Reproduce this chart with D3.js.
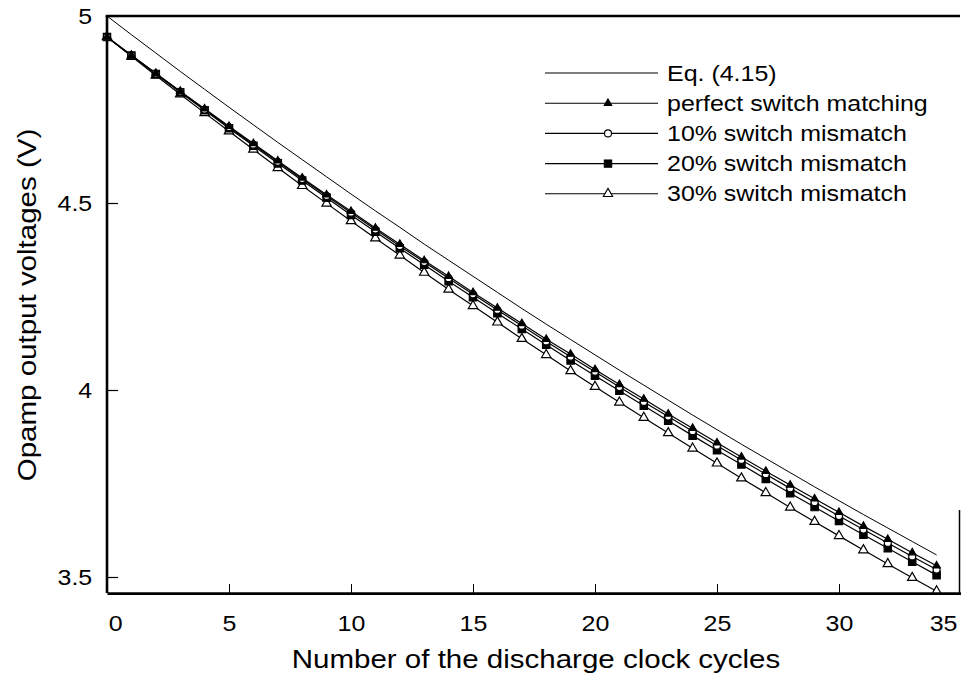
<!DOCTYPE html>
<html>
<head>
<meta charset="utf-8">
<script src="https://cdn.jsdelivr.net/npm/d3@7"></script>
<style>
  body { margin: 0; background: #fff; }
  text { font-family: "Liberation Sans", Arial, Helvetica, sans-serif; fill: #000; }
</style>
</head>
<body>
<div id="chart"></div>
<script>
// discharge clock cycles
var cycles = [0, 1, 2, 3, 4, 5, 6, 7, 8, 9, 10, 11, 12, 13, 14, 15, 16, 17, 18, 19,
              20, 21, 22, 23, 24, 25, 26, 27, 28, 29, 30, 31, 32, 33, 34];

// Eq. (4.15)
var eqValues = [5.000, 4.950, 4.901, 4.852, 4.804, 4.756, 4.709, 4.662, 4.616, 4.570,
                4.524, 4.479, 4.435, 4.390, 4.347, 4.304, 4.261, 4.218, 4.176, 4.135,
                4.094, 4.053, 4.013, 3.973, 3.933, 3.894, 3.855, 3.817, 3.779, 3.741,
                3.704, 3.667, 3.631, 3.595, 3.559];

var perfectValues = [4.944, 4.895, 4.847, 4.799, 4.752, 4.705, 4.659, 4.613, 4.567, 4.522,
                     4.478, 4.433, 4.390, 4.346, 4.304, 4.261, 4.219, 4.178, 4.136, 4.096,
                     4.055, 4.015, 3.976, 3.936, 3.898, 3.859, 3.821, 3.783, 3.746, 3.709,
                     3.673, 3.636, 3.601, 3.565, 3.530];

var mis10Values = [4.944, 4.895, 4.846, 4.798, 4.750, 4.703, 4.656, 4.610, 4.564, 4.519,
                   4.474, 4.429, 4.385, 4.342, 4.299, 4.256, 4.214, 4.172, 4.130, 4.089,
                   4.049, 4.008, 3.968, 3.929, 3.890, 3.851, 3.813, 3.775, 3.737, 3.700,
                   3.663, 3.627, 3.591, 3.555, 3.520];

var mis20Values = [4.944, 4.894, 4.845, 4.796, 4.748, 4.700, 4.653, 4.606, 4.560, 4.514,
                   4.468, 4.423, 4.379, 4.335, 4.291, 4.248, 4.205, 4.163, 4.121, 4.079,
                   4.038, 3.998, 3.958, 3.918, 3.878, 3.839, 3.801, 3.762, 3.724, 3.687,
                   3.650, 3.613, 3.577, 3.541, 3.505];

var mis30Values = [4.944, 4.892, 4.841, 4.791, 4.741, 4.692, 4.643, 4.594, 4.546, 4.499,
                   4.452, 4.406, 4.360, 4.314, 4.269, 4.225, 4.181, 4.137, 4.094, 4.051,
                   4.009, 3.967, 3.926, 3.885, 3.844, 3.804, 3.764, 3.725, 3.686, 3.648,
                   3.610, 3.572, 3.535, 3.498, 3.462];

var xTicks = [0, 5, 10, 15, 20, 25, 30, 35];
var yTicks = [3.5, 4, 4.5, 5];

var legendLabels = ["Eq. (4.15)", "perfect switch matching", "10% switch mismatch",
                    "20% switch mismatch", "30% switch mismatch"];

var width = 961,
    height = 677;

var stretch = 1.135; // the lettering in the figure is a bit wide

var svg = d3.select("#chart").append("svg")
    .attr("width", width)
    .attr("height", height);

var x = d3.scaleLinear().domain([0, 35]).range([107, 961]);
var y = d3.scaleLinear().domain([3.5, 5]).range([577, 16]);

var plotBottom = y(3.457);

// series: values + marker style
var series = [
    { values: perfectValues, symbol: d3.symbolTriangle, size: 24, fill: "#000" },
    { values: mis10Values, symbol: d3.symbolCircle, size: 38, fill: "#fff" },
    { values: mis20Values, symbol: d3.symbolSquare, size: 54, fill: "#000" },
    { values: mis30Values, symbol: d3.symbolTriangle, size: 38, fill: "#fff" }
];

var line = d3.line()
    .x(function (d, i) { return x(cycles[i]); })
    .y(function (d) { return y(d); });

var g = svg.append("g");

// theory curve
g.append("path")
    .attr("d", line(eqValues))
    .attr("fill", "none")
    .attr("stroke", "#000")
    .attr("stroke-width", 1);

// lines first, then markers on top
series.forEach(function (s) {
    g.append("path")
        .attr("d", line(s.values))
        .attr("fill", "none")
        .attr("stroke", "#000")
        .attr("stroke-width", 1.2);
});

series.slice().reverse().forEach(function (s) {
    g.selectAll(null)
        .data(s.values)
        .enter()
        .append("path")
        .attr("transform", function (d, i) {
            return "translate(" + x(cycles[i]) + "," + y(d) + ")";
        })
        .attr("d", d3.symbol().type(s.symbol).size(s.size))
        .attr("fill", s.fill)
        .attr("stroke", "#000")
        .attr("stroke-width", 1.2);
});

// axes (ticks point inside)
var xAxis = svg.append("g")
    .attr("transform", "translate(0," + plotBottom + ")")
    .call(d3.axisBottom(x)
        .tickValues(xTicks)
        .tickFormat(d3.format("d"))
        .tickSizeInner(-9)
        .tickSizeOuter(0)
        .tickPadding(22));

xAxis.select(".domain").attr("stroke-width", 2.6);
xAxis.selectAll(".tick line").attr("stroke-width", 1);
xAxis.selectAll("text")
    .style("font-size", "22px")
    .attr("transform", "scale(" + stretch + ",1)")
    .attr("text-anchor", function (d) {
        if (d === 0) return "start";
        if (d === 35) return "end";
        return "middle";
    })
    .attr("dx", function (d) {
        if (d === 0) return 1;
        if (d === 35) return -4 / stretch;
        return 0;
    });

var yAxis = svg.append("g")
    .attr("transform", "translate(" + x(0) + ",0)")
    .call(d3.axisLeft(y)
        .tickValues(yTicks)
        .tickFormat(function (d) { return d === 4 || d === 5 ? d3.format("d")(d) : d3.format(".1f")(d); })
        .tickSizeInner(-11)
        .tickSizeOuter(0)
        .tickPadding(13));

yAxis.select(".domain").attr("d", "M0," + y(5) + "V" + plotBottom).attr("stroke-width", 2.6);
yAxis.selectAll(".tick line").attr("stroke-width", 1.2);
yAxis.selectAll("text")
    .style("font-size", "22px")
    .attr("transform", "scale(" + stretch + ",1)");

// top and right border
svg.append("line")
    .attr("x1", x(0) - 1.3).attr("x2", 960)
    .attr("y1", y(5)).attr("y2", y(5))
    .attr("stroke", "#000")
    .attr("stroke-width", 2.6);

svg.append("line")
    .attr("x1", 959.5).attr("x2", 959.5)
    .attr("y1", 510).attr("y2", plotBottom)
    .attr("stroke", "#000")
    .attr("stroke-width", 1.5);

// axis titles
svg.append("text")
    .attr("transform", "translate(536,668) scale(" + stretch + ",1)")
    .attr("text-anchor", "middle")
    .style("font-size", "26px")
    .text("Number of the discharge clock cycles");

svg.append("text")
    .attr("transform", "translate(36,305) rotate(-90) scale(" + stretch + ",1)")
    .attr("text-anchor", "middle")
    .style("font-size", "26px")
    .text("Opamp output voltages (V)");

// legend
var legendStyles = [null].concat(series);
var legend = svg.append("g").attr("class", "legend");

legendLabels.forEach(function (label, i) {
    var ly = 73 + i * 30.2;
    legend.append("line")
        .attr("x1", 545).attr("x2", 658)
        .attr("y1", ly).attr("y2", ly)
        .attr("stroke", "#000")
        .attr("stroke-width", 1.1);
    var s = legendStyles[i];
    if (s) {
        legend.append("path")
            .attr("transform", "translate(608," + ly + ")")
            .attr("d", d3.symbol().type(s.symbol).size(s.size))
            .attr("fill", s.fill)
            .attr("stroke", "#000")
            .attr("stroke-width", 1.1);
    }
    legend.append("text")
        .attr("transform", "translate(667," + (ly + 7.5) + ") scale(" + stretch + ",1)")
        .style("font-size", "22px")
        .text(label);
});
</script>
</body>
</html>
